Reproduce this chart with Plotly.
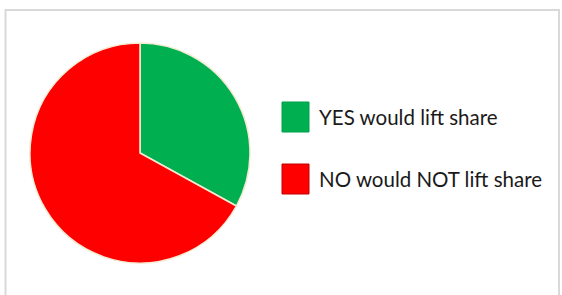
import plotly.graph_objects as go

labels = ["YES would lift share", "NO would NOT lift share"]
values = [33, 67]
colors = ["#00B050", "#FF0000"]
border_colors = ["#00A04A", "#C00000"]

W, H = 562, 295

def px(x):
    return x / W

def py(y):
    return 1 - y / H

fig = go.Figure()
fig.add_trace(go.Pie(
    labels=labels,
    values=values,
    sort=False,
    direction="clockwise",
    rotation=0,
    textinfo="none",
    marker=dict(colors=colors, line=dict(color="#F3EBD3", width=1.5)),
    domain=dict(x=[px(30), px(250)], y=[py(263), py(43)]),
    showlegend=False,
))

shapes = [
    dict(type="rect", xref="paper", yref="paper",
         x0=px(5.5), x1=px(559), y0=py(310), y1=py(10),
         line=dict(color="#D9D9D9", width=2), fillcolor="rgba(0,0,0,0)")
]
annotations = []
rows = [117, 179]
for lab, col, bcol, yc in zip(labels, colors, border_colors, rows):
    shapes.append(dict(type="rect", xref="paper", yref="paper",
                       x0=px(282), x1=px(309), y0=py(yc + 15), y1=py(yc - 15),
                       fillcolor=col, line=dict(color=bcol, width=1)))
    annotations.append(dict(text=lab, xref="paper", yref="paper",
                            x=px(317), y=py(yc), xanchor="left", yanchor="middle",
                            showarrow=False,
                            font=dict(family="Lato, Open Sans, sans-serif", size=20.5, color="#1a1a1a")))

fig.update_layout(
    width=W, height=H,
    margin=dict(l=0, r=0, t=0, b=0),
    paper_bgcolor="white",
    plot_bgcolor="white",
    shapes=shapes,
    annotations=annotations,
)

fig.write_html(
    "out.html",
    config={"displayModeBar": False},
    post_script="document.body.style.margin='0';document.body.style.overflow='hidden';",
)
